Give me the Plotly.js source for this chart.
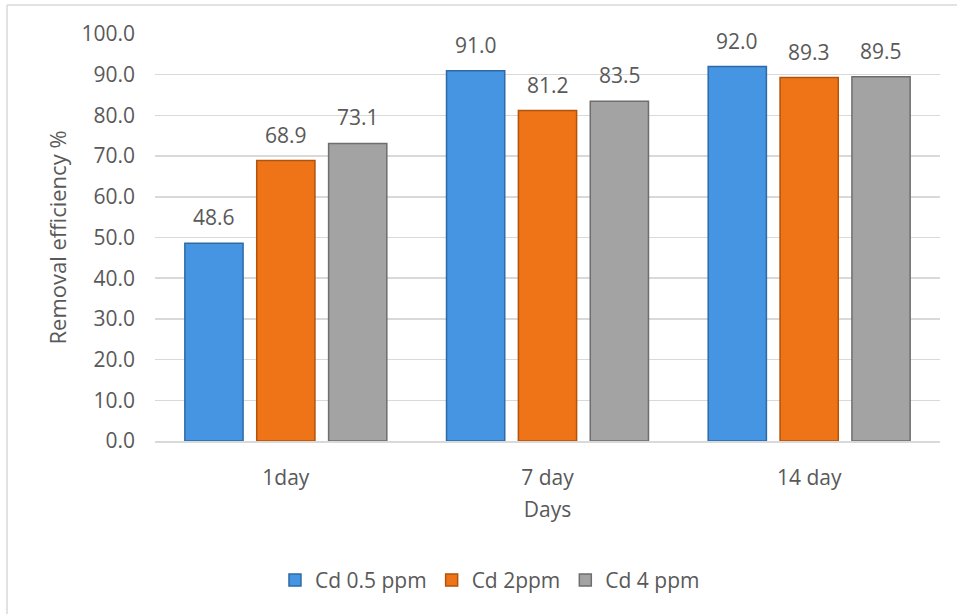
<!DOCTYPE html>
<html>
<head>
<meta charset="utf-8">
<script src="https://cdn.plot.ly/plotly-3.0.1.min.js"></script>
<style>
  html, body { margin: 0; padding: 0; background: #ffffff; }
  #chart { width: 957px; height: 614px; }
</style>
</head>
<body>
<div id="chart"></div>
<script>
// ---- data ----
const categories = ["1day", "7 day", "14 day"];
const seriesNames = ["Cd 0.5 ppm", "Cd 2ppm", "Cd 4 ppm"];
const cd05 = [48.6, 91.0, 92.0];
const cd2 = [68.9, 81.2, 89.3];
const cd4 = [73.1, 83.5, 89.5];
const yTickVals = [0, 10, 20, 30, 40, 50, 60, 70, 80, 90, 100];

const seriesValues = [cd05, cd2, cd4];
const fills = ["#4595E2", "#EF7417", "#A3A3A3"];
const edges = ["#2E6AA6", "#B0530C", "#6E6E6E"];

const FONT = "Open Sans, Liberation Sans, sans-serif";
const GREY = "#595959";

const traces = seriesValues.map((vals, i) => ({
  type: "bar",
  name: seriesNames[i],
  x: categories,
  y: vals,
  marker: { color: fills[i], line: { color: edges[i], width: 1.5 } },
  hoverinfo: "x+y+name"
}));

// value labels above bars
const slot = 72; // px between bar centres within a group
const annotations = [];
seriesValues.forEach((vals, i) => {
  vals.forEach((v, j) => {
    annotations.push({
      x: categories[j], y: v, xref: "x", yref: "y",
      text: v.toFixed(1), showarrow: false,
      xshift: (i - 1) * slot, yanchor: "bottom", yshift: 10,
      font: { family: FONT, size: 21, color: GREY }
    });
  });
});

const layout = {
  width: 957, height: 614,
  margin: { l: 155, r: 17, t: 34, b: 173 },
  paper_bgcolor: "#ffffff", plot_bgcolor: "#ffffff",
  font: { family: FONT, size: 21, color: GREY },
  barmode: "group",
  bargap: 0.176,
  bargroupgap: 0.19,
  showlegend: true,
  legend: {
    orientation: "h",
    xref: "container", yref: "container",
    x: 0.512, xanchor: "center",
    y: 0.055, yanchor: "middle",
    font: { family: FONT, size: 21, color: GREY },
    traceorder: "normal"
  },
  xaxis: {
    type: "category",
    showgrid: false,
    showline: true, linecolor: "#D9D9D9", linewidth: 1.5,
    ticks: "",
    ticklabelstandoff: 17,
    tickfont: { family: FONT, size: 21, color: GREY },
    title: { text: "Days", font: { family: FONT, size: 21, color: GREY }, standoff: 12 }
  },
  yaxis: {
    range: [0, 100],
    tickvals: yTickVals,
    tickformat: ".1f",
    showgrid: true, gridcolor: "#D9D9D9", gridwidth: 1.5,
    zeroline: false,
    showline: false,
    ticks: "",
    ticklabelstandoff: 19,
    tickfont: { family: FONT, size: 21, color: GREY },
    title: { text: "Removal efficiency %", font: { family: FONT, size: 22, color: GREY }, standoff: 8 }
  },
  annotations: annotations,
  shapes: [
    { type: "line", xref: "paper", yref: "paper",
      x0: (7 - 155) / 785, x1: (957 - 155) / 785, y0: (441 - 5) / 407, y1: (441 - 5) / 407,
      line: { color: "#D9D9D9", width: 1.5 } },
    { type: "line", xref: "paper", yref: "paper",
      x0: (7 - 155) / 785, x1: (7 - 155) / 785, y0: (441 - 5) / 407, y1: (441 - 614) / 407,
      line: { color: "#D9D9D9", width: 1.5 } }
  ]
};

Plotly.newPlot("chart", traces, layout, { displayModeBar: false, staticPlot: true });
</script>
</body>
</html>
